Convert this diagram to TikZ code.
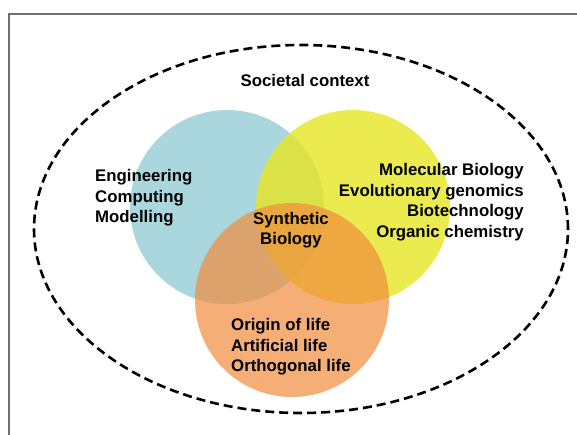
\documentclass[tikz,border=0pt]{standalone}
\usepackage{fontspec}
\setmainfont{Liberation Sans}
\usepackage{tikz}
\usetikzlibrary{shapes.geometric}

\definecolor{engblue}{RGB}{170,214,222}
\definecolor{bioyellow}{RGB}{230,230,35}
\definecolor{lifeorange}{RGB}{240,140,60}
\definecolor{framegray}{RGB}{112,112,112}

\begin{document}
\begin{tikzpicture}[x=1pt, y=-1pt]
    % Define styles
    \tikzstyle{field} = [circle, minimum size=194pt, inner sep=0pt, draw=none]
    \tikzstyle{label} = [inner sep=0pt, font=\fontsize{16.8}{20.5}\selectfont\bfseries, text=black]
    \tikzstyle{context} = [ellipse, minimum width=534pt, minimum height=368pt, draw=black, line width=2.6pt, dash pattern=on 9pt off 5pt]

    \useasboundingbox (0,0) rectangle (577,435);
    \draw [framegray, line width=1.2pt] (9,435) -- (9,14) -- (577,14);

    % Circles
    \node (society) [context] at (301,229) {};
    \node (engcircle) [field, fill=engblue] at (227,207) {};
    \node (biocircle) [field, fill=bioyellow, fill opacity=0.8] at (353,207) {};
    \node (lifecircle) [field, fill=lifeorange, fill opacity=0.7] at (292,300) {};

    % Labels
    \node (soclabel) [label] at (305,80) {Societal context};
    \node (englabel) [label, anchor=west, align=left] at (95,198) {Engineering\\Computing\\Modelling};
    \node (biolabel) [label, anchor=east, align=right] at (524,202) {Molecular Biology\\Evolutionary genomics\\Biotechnology\\Organic chemistry};
    \node (synlabel) [label, align=center] at (291,230) {Synthetic\\Biology};
    \node (lifelabel) [label, anchor=west, align=left] at (231,347) {Origin of life\\Artificial life\\Orthogonal life};
\end{tikzpicture}
\end{document}
